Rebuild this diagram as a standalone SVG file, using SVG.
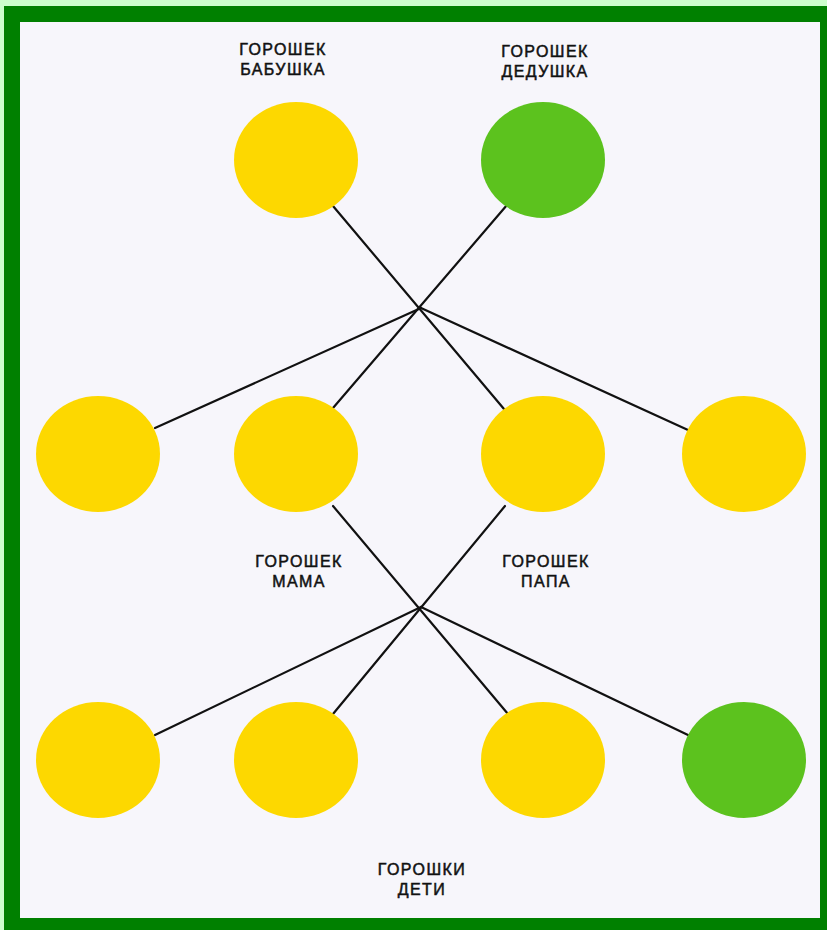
<svg xmlns="http://www.w3.org/2000/svg" width="827" height="930" viewBox="0 0 827 930">
<style>
.y{fill:#fdd800}
.g{fill:#5cc21e}
.lbl{font-family:"Liberation Sans",Arial,sans-serif;font-size:16px;fill:#111;stroke:#111;stroke-width:0.5px;text-anchor:middle;letter-spacing:1.4px}
#connectors line{stroke:#111;stroke-width:2.2;stroke-linecap:round}
</style>
<rect x="0" y="0" width="827" height="930" fill="#ccffcc"/>
<rect x="4" y="6" width="823" height="924" fill="#008000"/>
<rect x="20" y="22" width="800" height="896" fill="#f7f6fb"/>
<g id="connectors">
<line x1="333" y1="206" x2="504" y2="409"/>
<line x1="507" y1="205" x2="333" y2="408"/>
<line x1="421" y1="308" x2="155" y2="428"/>
<line x1="421" y1="308" x2="688" y2="430"/>
<line x1="333" y1="506" x2="508" y2="714"/>
<line x1="505" y1="506" x2="333" y2="714"/>
<line x1="421" y1="607" x2="155" y2="735"/>
<line x1="421" y1="607" x2="688" y2="735"/>
</g>
<g id="babushka"><ellipse class="y" cx="296" cy="160" rx="62" ry="58"/><text class="lbl" x="283" y="55">ГОРОШЕК</text><text class="lbl" x="283" y="75">БАБУШКА</text></g>
<g id="dedushka"><ellipse class="g" cx="543" cy="160" rx="62" ry="58"/><text class="lbl" x="545" y="57">ГОРОШЕК</text><text class="lbl" x="545" y="77">ДЕДУШКА</text></g>
<g id="m1"><ellipse class="y" cx="98" cy="454" rx="62" ry="58"/></g>
<g id="mama"><ellipse class="y" cx="296" cy="454" rx="62" ry="58"/><text class="lbl" x="299" y="567">ГОРОШЕК</text><text class="lbl" x="299" y="587">МАМА</text></g>
<g id="papa"><ellipse class="y" cx="543" cy="454" rx="62" ry="58"/><text class="lbl" x="546" y="567">ГОРОШЕК</text><text class="lbl" x="546" y="587">ПАПА</text></g>
<g id="m4"><ellipse class="y" cx="744" cy="454" rx="62" ry="58"/></g>
<g id="c1"><ellipse class="y" cx="98" cy="760" rx="62" ry="58"/></g>
<g id="c2"><ellipse class="y" cx="296" cy="760" rx="62" ry="58"/></g>
<g id="c3"><ellipse class="y" cx="543" cy="760" rx="62" ry="58"/></g>
<g id="c4"><ellipse class="g" cx="744" cy="760" rx="62" ry="58"/></g>
<g id="deti"><text class="lbl" x="422" y="875">ГОРОШКИ</text><text class="lbl" x="422" y="895">ДЕТИ</text></g>
</svg>
